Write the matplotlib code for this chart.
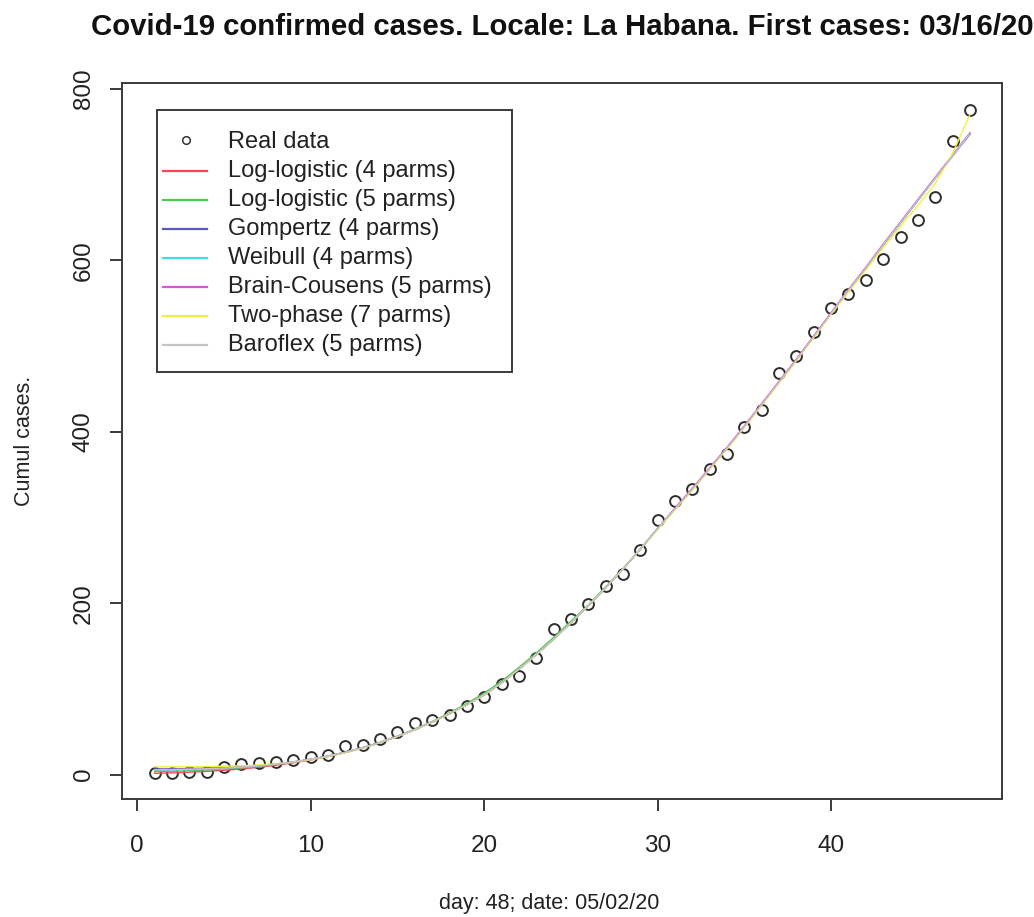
import matplotlib
matplotlib.use("Agg")
import matplotlib.pyplot as plt
from matplotlib.lines import Line2D
from matplotlib.patches import Rectangle

plt.rcParams['font.family'] = ['Liberation Sans', 'DejaVu Sans']

# ---------------- data ----------------
days = list(range(1, 49))

real_data = [2, 2, 3, 3, 9, 12, 14, 15, 17, 21, 23, 33, 35, 42, 50, 60, 64, 70,
             80, 91, 106, 115, 136, 170, 181, 199, 220, 234, 262, 297, 319, 333,
             356, 374, 406, 426, 469, 488, 516, 544, 561, 577, 602, 627, 647, 674,
             739, 775]

fit_ll4 = [1.5, 2.0, 2.8, 3.8, 5.0, 6.6, 8.5, 10.9, 13.7, 17.0, 21.0, 25.7, 31.1,
           37.3, 44.4, 52.4, 61.3, 71.0, 81.5, 93.0, 107, 123, 140, 158, 177, 197,
           218, 240, 263, 287, 310, 333, 357, 381, 406, 432, 458, 484, 511, 538,
           565, 591, 618, 644, 670, 696, 722, 748]
fit_ll5 = [3.5, 3.9, 4.5, 5.4, 6.5, 7.9, 9.6, 11.8, 14.5, 17.7, 21.5, 26.0, 31.3,
           37.6, 44.8, 53.0, 62.0, 72.0, 83.0, 95.0, 109, 125, 142, 160, 179, 198,
           219, 240, 263, 287, 310, 333, 357, 381, 406, 432, 458, 484, 511, 538,
           565, 591, 618, 644, 670, 696, 722, 748]
fit_gompertz = [6.5, 6.7, 7.0, 7.5, 8.2, 9.2, 10.6, 12.4, 14.8, 17.8, 21.5, 26.0,
                31.3, 37.5, 44.5, 52.5, 61.3, 71.0, 81.5, 93.0, 107, 123, 140, 158,
                177, 197, 218, 240, 263, 287, 310, 333, 357, 381, 406, 432, 458, 484,
                511, 538, 565, 591, 618, 644, 670, 696, 722, 747]
fit_weibull = [5.0, 5.2, 5.7, 6.3, 7.2, 8.4, 10.0, 12.0, 14.6, 17.7, 21.5, 26.0,
               31.3, 37.5, 44.5, 52.5, 61.3, 71.0, 81.5, 93.0, 107, 123, 140, 158,
               177, 197, 218, 240, 263, 287, 310, 333, 357, 381, 406, 432, 458, 484,
               511, 538, 565, 591, 618, 644, 670, 696, 722, 748]
fit_brain_cousens = [5.8, 6.0, 6.4, 6.9, 7.6, 8.7, 10.2, 12.2, 14.7, 17.8, 21.5,
                     26.0, 31.3, 37.5, 44.5, 52.5, 61.3, 71.0, 81.5, 93.0, 107, 123,
                     140, 158, 177, 197, 218, 240, 263, 287, 311, 334, 358, 382, 407,
                     433, 459, 485, 512, 539, 566, 592, 619, 645, 671, 697, 723, 749]
fit_two_phase = [9.0, 9.0, 9.1, 9.3, 9.7, 10.3, 11.2, 12.6, 14.6, 17.4, 21.0, 25.6,
                 31.0, 37.3, 44.4, 52.4, 61.3, 71.0, 81.5, 93.0, 107, 123, 140, 158,
                 177, 197, 218, 240, 263, 286, 309, 332, 356, 380, 405, 431, 457, 483,
                 510, 537, 563, 589, 615, 640, 664, 690, 725, 770]
fit_baroflex = [5.5, 5.8, 6.2, 6.8, 7.6, 8.7, 10.2, 12.2, 14.7, 17.8, 21.5, 26.0,
                31.3, 37.5, 44.5, 52.5, 61.3, 71.0, 81.5, 93.0, 107, 123, 140, 158,
                177, 197, 218, 240, 263, 287, 310, 333, 357, 381, 406, 432, 458, 484,
                511, 538, 565, 591, 618, 644, 670, 696, 722, 748]

model_names = ["Log-logistic (4 parms)", "Log-logistic (5 parms)", "Gompertz (4 parms)",
               "Weibull (4 parms)", "Brain-Cousens (5 parms)", "Two-phase (7 parms)",
               "Baroflex (5 parms)"]
model_fits = [fit_ll4, fit_ll5, fit_gompertz, fit_weibull, fit_brain_cousens,
              fit_two_phase, fit_baroflex]
model_colors = ['#f04a5a', '#4ccc4c', '#5a5ab8', '#40e0e0', '#e050e0', '#f0f040', '#c4c4c4']

x_ticks = [0, 10, 20, 30, 40]
y_ticks = [0, 200, 400, 600, 800]

title = "Covid-19 confirmed cases. Locale: La Habana. First cases: 03/16/20"
xlabel = "day: 48; date: 05/02/20"
ylabel = "Cumul cases."

# ---------------- figure ----------------
W, H = 1034, 917
fig = plt.figure(figsize=(W / 100, H / 100), dpi=100)
ax = fig.add_axes([122 / W, 1 - 799 / H, (1002 - 122) / W, (799 - 83) / H])

frame_col = '#3a3a3a'
ink = '#222222'

ax.plot(days, real_data, linestyle='none', marker='o', markersize=7.8,
        markerfacecolor='none', markeredgecolor='#2e2e2a', markeredgewidth=1.4,
        zorder=3)
for fit, col in zip(model_fits, model_colors):
    ax.plot(days, fit, color=col, lw=1.0, zorder=4)

ax.set_xlim(-0.88, 49.85)
ax.set_ylim(-28.5, 807)
ax.set_xticks(x_ticks)
ax.set_yticks(y_ticks)
ax.set_xticklabels([str(v) for v in x_ticks])
ax.set_yticklabels([str(v) for v in y_ticks])

for sp in ax.spines.values():
    sp.set_color(frame_col)
    sp.set_linewidth(1.4)
ax.tick_params(direction='out', length=8.5, width=1.4, color=frame_col,
               labelsize=17.5, labelcolor=ink)
ax.tick_params(axis='x', pad=17.5)
ax.tick_params(axis='y', pad=11)
for lab in ax.get_yticklabels():
    lab.set_rotation(90)
    lab.set_va('center')
    lab.set_ha('right')

fig.text(562 / W, 1 - 27 / H, title, ha='center', va='center',
         fontsize=21.2, fontweight='bold', color='#111111')
fig.text(549 / W, 1 - 903 / H, xlabel, ha='center', va='center',
         fontsize=15.5, color=ink)
fig.text(25 / W, 1 - 441 / H, ylabel, ha='center', va='center',
         rotation=90, fontsize=15.5, color=ink)

# ---------------- legend (R style box) ----------------
def fx(px):
    return px / W

def fy(py):
    return 1 - py / H

box = Rectangle((fx(157), fy(372)), fx(512) - fx(157), fy(110) - fy(372),
                transform=fig.transFigure, facecolor='white', edgecolor=frame_col,
                linewidth=1.4, zorder=10)
fig.add_artist(box)

labels = ["Real data"] + model_names
for i, lab in enumerate(labels):
    yc = 142 + 29 * i
    if i == 0:
        fig.add_artist(Line2D([fx(186)], [fy(yc - 2)], transform=fig.transFigure,
                              linestyle='none', marker='o', markersize=5.5,
                              markerfacecolor='none', markeredgecolor='#333333',
                              markeredgewidth=1.1, zorder=11))
    else:
        fig.add_artist(Line2D([fx(163), fx(207)], [fy(yc), fy(yc)],
                              transform=fig.transFigure, color=model_colors[i - 1],
                              lw=1.6, zorder=11))
    fig.text(fx(228), fy(yc), lab, ha='left', va='center', fontsize=17,
             color=ink, zorder=12)

fig.savefig("out.png", dpi=100, facecolor='white')
